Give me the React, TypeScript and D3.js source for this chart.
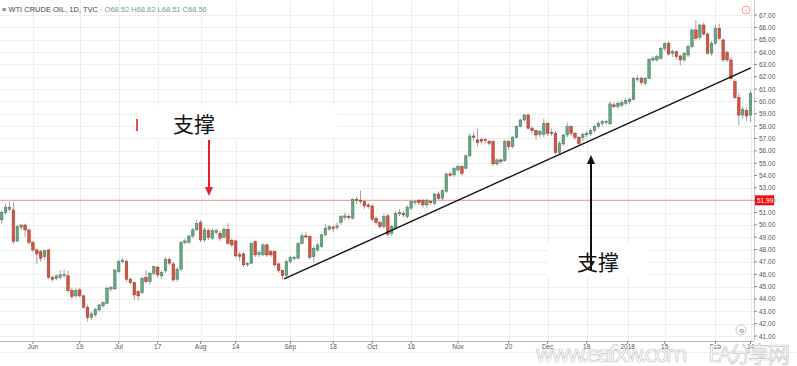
import { useEffect, useRef } from "react";
import * as d3 from "d3";

// daily candles [open, high, low, close], one per trading day
const candles: [number, number, number, number][] = [
  [50.4, 51.2, 50.1, 51.0], [50.99, 51.75, 50.8, 51.43], [51.26, 51.89, 51.15, 51.43], [51.21, 51.89, 48.45, 48.65],
  [48.7, 50.0, 48.6, 49.86], [49.81, 50.1, 49.6, 49.99], [49.99, 50.1, 49.05, 49.59], [49.59, 49.7, 48.4, 48.57],
  [48.57, 48.7, 47.8, 47.97], [47.97, 48.1, 46.84, 47.65], [47.84, 48.0, 47.0, 47.3], [47.43, 48.0, 47.2, 47.92],
  [47.97, 48.05, 45.6, 45.76], [45.76, 45.9, 45.4, 45.6], [45.65, 46.0, 45.5, 45.87], [45.76, 46.35, 45.6, 45.95],
  [45.95, 46.4, 45.7, 46.0], [45.87, 46.3, 44.5, 44.68], [44.68, 44.9, 44.0, 44.19], [44.25, 44.85, 44.1, 44.68],
  [44.73, 44.9, 44.1, 44.25], [44.25, 44.35, 43.2, 43.33], [43.33, 43.5, 42.17, 42.49], [42.49, 42.95, 42.3, 42.79],
  [42.71, 43.3, 42.55, 43.17], [43.11, 43.6, 42.95, 43.52], [43.44, 43.8, 43.3, 43.71], [43.65, 45.0, 43.55, 44.87],
  [44.81, 45.05, 44.6, 44.92], [44.81, 46.4, 44.75, 46.35], [46.22, 47.2, 46.1, 47.03], [47.03, 47.3, 46.9, 47.1],
  [47.03, 47.2, 45.4, 45.6], [45.6, 45.75, 45.2, 45.33], [45.33, 45.4, 43.9, 44.33], [44.6, 44.7, 43.9, 44.25],
  [44.52, 45.8, 44.4, 45.68], [45.73, 46.35, 45.3, 45.41], [45.41, 46.2, 45.2, 46.08], [46.08, 46.7, 45.9, 46.62],
  [46.57, 46.7, 45.7, 45.95], [45.87, 46.3, 45.6, 46.14], [46.27, 47.4, 46.1, 47.2], [47.2, 47.35, 46.7, 46.9],
  [46.84, 47.0, 45.4, 45.54], [45.6, 46.6, 45.4, 46.41], [46.41, 48.7, 46.3, 48.57], [48.57, 48.9, 48.4, 48.7],
  [48.6, 49.2, 48.45, 49.1], [49.1, 49.75, 48.9, 49.6], [49.6, 50.4, 49.5, 50.1], [50.19, 50.4, 48.6, 48.78],
  [48.78, 49.8, 48.6, 49.59], [49.54, 49.7, 48.8, 49.0], [48.92, 49.7, 48.8, 49.54], [49.38, 49.7, 49.2, 49.54],
  [49.32, 49.5, 48.7, 48.92], [49.0, 49.8, 48.9, 49.65], [49.65, 50.13, 48.4, 48.51], [48.73, 48.9, 48.2, 48.38],
  [48.7, 48.8, 47.3, 47.49], [47.6, 47.8, 47.1, 47.45], [47.65, 47.8, 46.6, 46.76], [46.76, 47.0, 46.6, 46.89],
  [46.89, 48.6, 46.8, 48.51], [48.65, 48.75, 47.4, 47.57], [47.6, 47.9, 47.4, 47.75], [47.57, 48.5, 47.5, 48.38],
  [48.38, 48.5, 47.4, 47.57], [47.84, 48.0, 47.4, 47.57], [47.84, 47.9, 46.6, 46.76], [46.84, 46.95, 46.1, 46.3],
  [46.3, 46.4, 45.6, 45.9], [45.9, 47.2, 45.8, 47.03], [47.03, 47.5, 46.9, 47.35], [47.27, 47.5, 47.1, 47.38],
  [47.3, 48.6, 47.2, 48.51], [48.51, 49.3, 48.4, 49.11], [49.11, 49.4, 48.9, 49.05], [49.05, 49.2, 47.2, 47.38],
  [47.43, 48.3, 47.0, 48.11], [47.97, 48.5, 47.8, 48.38], [48.24, 49.3, 48.1, 49.19], [49.19, 50.1, 49.1, 49.73],
  [49.65, 50.0, 49.5, 49.86], [49.83, 49.95, 49.4, 49.7], [49.78, 50.2, 49.6, 49.92], [50.19, 50.8, 50.0, 50.67],
  [50.62, 51.0, 50.4, 50.73], [50.7, 50.9, 50.4, 50.6], [50.54, 52.2, 50.45, 52.07], [52.07, 52.3, 51.7, 51.97],
  [52.0, 52.8, 51.7, 51.91], [51.89, 52.0, 51.3, 51.53], [51.62, 51.8, 51.3, 51.48], [51.53, 51.7, 50.3, 50.45],
  [50.54, 50.7, 50.0, 50.19], [50.19, 50.3, 49.7, 49.86], [49.86, 50.9, 49.7, 50.67], [50.73, 50.9, 49.1, 49.24],
  [49.32, 50.0, 49.1, 49.86], [49.73, 51.1, 49.6, 50.94], [50.89, 51.3, 50.7, 51.0], [50.94, 51.1, 50.6, 50.81],
  [50.67, 51.6, 50.5, 51.43], [51.35, 52.0, 51.2, 51.89], [51.8, 52.0, 51.6, 51.89], [51.97, 52.1, 51.6, 51.8],
  [51.97, 52.1, 51.4, 51.62], [51.62, 52.1, 51.4, 51.97], [51.91, 52.0, 51.6, 51.8], [51.75, 52.6, 51.6, 52.5],
  [52.5, 52.7, 52.0, 52.16], [52.16, 52.9, 52.0, 52.78], [52.7, 54.25, 52.6, 54.13], [54.13, 54.3, 53.9, 54.0],
  [54.05, 54.7, 53.9, 54.59], [54.45, 54.85, 54.3, 54.72], [54.72, 54.85, 54.0, 54.18], [54.59, 55.7, 54.5, 55.59],
  [55.59, 57.4, 55.5, 57.2], [57.2, 57.5, 56.8, 57.1], [56.88, 57.8, 56.35, 56.67], [56.93, 57.1, 56.5, 56.77],
  [56.93, 57.0, 56.6, 56.83], [56.75, 56.9, 56.4, 56.61], [56.75, 56.9, 54.8, 54.94], [54.94, 55.4, 54.8, 55.26],
  [55.26, 55.4, 54.95, 55.13], [55.2, 56.9, 55.1, 56.75], [56.75, 56.9, 56.1, 56.34], [56.34, 57.2, 56.2, 57.1],
  [57.1, 58.05, 57.0, 57.96], [57.96, 58.6, 57.9, 58.5], [58.5, 59.0, 58.4, 58.9], [58.9, 59.0, 57.7, 57.83],
  [57.83, 58.0, 57.4, 57.64], [57.64, 57.7, 56.9, 57.28], [57.34, 57.7, 57.1, 57.56], [57.34, 58.6, 57.1, 58.23],
  [58.23, 58.3, 57.2, 57.42], [57.5, 57.8, 57.2, 57.42], [57.42, 57.6, 55.7, 55.86], [55.86, 56.8, 55.7, 56.61],
  [56.56, 57.4, 56.4, 57.28], [57.28, 58.3, 57.1, 57.96], [57.96, 58.1, 57.2, 57.42], [57.42, 57.5, 56.9, 57.1],
  [57.1, 57.2, 56.4, 56.61], [57.07, 57.5, 56.8, 57.34], [57.3, 57.6, 57.1, 57.42], [57.37, 57.8, 57.2, 57.64],
  [57.64, 58.1, 57.5, 57.96], [57.96, 58.4, 57.8, 58.23], [58.2, 58.5, 58.0, 58.37], [58.3, 58.5, 58.1, 58.4],
  [58.18, 60.0, 58.1, 59.8], [59.72, 59.95, 59.4, 59.58], [59.58, 60.0, 59.4, 59.85], [59.7, 60.1, 59.5, 59.9],
  [59.85, 60.3, 59.7, 60.07], [59.98, 60.3, 59.8, 60.17], [60.17, 62.0, 60.1, 61.87], [61.8, 62.1, 61.6, 61.87],
  [61.87, 62.0, 61.3, 61.52], [61.47, 62.0, 61.3, 61.87], [61.87, 63.5, 61.8, 63.41], [63.36, 63.7, 63.2, 63.5],
  [63.36, 63.8, 63.2, 63.63], [63.5, 64.4, 63.4, 64.3], [64.3, 64.8, 64.1, 64.7], [64.7, 64.9, 63.7, 63.84],
  [63.9, 64.2, 63.6, 64.03], [64.03, 64.1, 63.4, 63.63], [63.68, 63.8, 62.9, 63.36], [63.36, 64.0, 63.2, 63.9],
  [63.76, 64.6, 63.6, 64.43], [64.43, 65.9, 64.3, 65.79], [65.79, 66.6, 65.0, 65.11], [65.19, 66.3, 65.0, 66.19],
  [66.19, 66.4, 65.3, 65.46], [65.46, 65.6, 63.8, 63.9], [63.9, 64.9, 63.7, 64.7], [64.7, 66.2, 64.6, 65.92],
  [65.92, 66.3, 65.0, 65.11], [64.98, 65.1, 63.2, 63.36], [63.95, 64.1, 63.2, 63.36], [63.36, 63.6, 61.7, 61.87],
  [61.6, 61.8, 60.2, 60.33], [60.33, 60.7, 58.1, 58.9], [58.9, 59.6, 58.6, 59.36], [59.25, 59.5, 58.4, 58.82],
  [58.9, 60.9, 58.3, 60.66],
];

const timeLabels = ["Jun", "19", "Jul", "17", "Aug", "14", "Sep", "18", "Oct", "16", "Nov", "20", "Dec", "18", "2018", "15", "Feb", "14"];
const timeLabelIndex = [8, 20, 30, 40, 51, 60, 74, 85, 95, 105, 117, 130, 140, 150, 160.5, 170, 183, 192];
const priceTicks = d3.range(41, 68, 1);
const supportLevel = 51.99;
// trend line anchors [bar index, price]
const trendLine: [number, number][] = [[72.4, 45.62], [192.1, 62.71]];

const W = 797, H = 366;
const plotRight = 754, axisY = 341;
const upColor = "#6ba583", downColor = "#d75442";

export default function App() {
  const ref = useRef<SVGSVGElement | null>(null);

  useEffect(() => {
    const svg = d3.select(ref.current);
    svg.selectAll("*").remove();

    const x = d3.scaleLinear().domain([0, candles.length - 1]).range([1.7, 750.5]);
    const y = d3.scaleLinear().domain([41, 67]).range([336, 15]);
    const ui = "Liberation Sans, Arial, sans-serif";

    svg.append("rect").attr("width", W).attr("height", H).attr("fill", "#fff");

    // grid
    svg.append("g").selectAll("line").data(priceTicks).join("line")
      .attr("x1", 0).attr("x2", plotRight).attr("y1", d => Math.round(y(d)) + 0.5).attr("y2", d => Math.round(y(d)) + 0.5)
      .attr("stroke", "#eeeeee");
    svg.append("g").selectAll("line").data(timeLabelIndex).join("line")
      .attr("x1", d => Math.round(x(d)) + 0.5).attr("x2", d => Math.round(x(d)) + 0.5).attr("y1", 0).attr("y2", axisY)
      .attr("stroke", "#eeeeee");

    // header
    const head = svg.append("text").attr("x", 2).attr("y", 12).attr("font-family", ui).attr("font-size", 7.5);
    head.append("tspan").attr("fill", "#444").text("\u2261 WTI CRUDE OIL, 1D, TVC \u00b7 ");
    head.append("tspan").attr("fill", upColor).text(" O68.52  H68.62  L68.51  C68.56");

    // support level
    svg.append("line").attr("x1", 0).attr("x2", plotRight).attr("y1", y(supportLevel)).attr("y2", y(supportLevel))
      .attr("stroke", "#f5a3a3").attr("stroke-width", 1.2);

    // candles
    const g = svg.append("g");
    const bw = 2.6;
    g.selectAll("line.wick").data(candles).join("line").attr("class", "wick")
      .attr("x1", (_, i) => x(i)).attr("x2", (_, i) => x(i))
      .attr("y1", d => y(d[1])).attr("y2", d => y(d[2]))
      .attr("stroke", "#8a8a8a").attr("stroke-width", 0.8);
    g.selectAll("rect.body").data(candles).join("rect").attr("class", "body")
      .attr("x", (_, i) => x(i) - bw / 2).attr("width", bw)
      .attr("y", d => y(Math.max(d[0], d[3])))
      .attr("height", d => Math.max(1, Math.abs(y(d[0]) - y(d[3]))))
      .attr("fill", d => (d[3] >= d[0] ? upColor : downColor))
      .attr("stroke", d => (d[3] >= d[0] ? "#3f7a58" : "#9a3427")).attr("stroke-width", 0.5);

    // trend line
    svg.append("line")
      .attr("x1", x(trendLine[0][0])).attr("y1", y(trendLine[0][1]))
      .attr("x2", x(trendLine[1][0])).attr("y2", y(trendLine[1][1]))
      .attr("stroke", "#111").attr("stroke-width", 1.4);

    // annotations
    const cjk = "Noto Sans CJK SC, sans-serif";
    svg.append("rect").attr("x", 138).attr("y", 105).attr("width", 200).attr("height", 33).attr("fill", "#fff");
    svg.append("line").attr("x1", 137).attr("x2", 137).attr("y1", 119).attr("y2", 131).attr("stroke", "#e8202a").attr("stroke-width", 1.6);
    svg.append("text").attr("x", 173).attr("y", 132).attr("font-family", cjk).attr("font-size", 21).attr("fill", "#111").text("支撑");

    const ax = x(53.15);
    svg.append("line").attr("x1", ax).attr("x2", ax).attr("y1", y(56.88)).attr("y2", y(52.9)).attr("stroke", "#e8202a").attr("stroke-width", 2);
    svg.append("path").attr("d", `M${ax - 4},${y(52.9) - 2}L${ax + 4},${y(52.9) - 2}L${ax},${y(52.34)}Z`).attr("fill", "#e8202a");

    svg.append("rect").attr("x", 548).attr("y", 245).attr("width", 100).attr("height", 32).attr("fill", "#fff");
    const bx = x(151.1);
    svg.append("line").attr("x1", bx).attr("x2", bx).attr("y1", y(46.35)).attr("y2", y(55.1)).attr("stroke", "#111").attr("stroke-width", 2);
    svg.append("path").attr("d", `M${bx - 4},${y(55.1) + 2}L${bx + 4},${y(55.1) + 2}L${bx},${y(55.66)}Z`).attr("fill", "#111");
    svg.append("text").attr("x", 577).attr("y", 270).attr("font-family", cjk).attr("font-size", 21).attr("fill", "#111").text("支撑");

    // right price axis
    svg.append("rect").attr("x", plotRight).attr("y", 0).attr("width", W - plotRight).attr("height", axisY).attr("fill", "#fff");
    svg.append("line").attr("x1", plotRight + 0.5).attr("x2", plotRight + 0.5).attr("y1", 0).attr("y2", axisY).attr("stroke", "#c8c8c8");
    const pa = svg.append("g");
    pa.selectAll("line").data(priceTicks).join("line")
      .attr("x1", plotRight).attr("x2", plotRight + 3).attr("y1", d => y(d)).attr("y2", d => y(d)).attr("stroke", "#888");
    pa.selectAll("text").data(priceTicks).join("text")
      .attr("x", plotRight + 5).attr("y", d => y(d) + 2.5)
      .attr("font-family", ui).attr("font-size", 6.5).attr("fill", "#555")
      .text(d => d3.format(".2f")(d));
    svg.append("rect").attr("x", plotRight + 1).attr("y", y(supportLevel) - 5).attr("width", 19).attr("height", 10).attr("fill", "#f01010");
    svg.append("text").attr("x", plotRight + 3).attr("y", y(supportLevel) + 2.5)
      .attr("font-family", ui).attr("font-size", 6.5).attr("fill", "#fff").text(d3.format(".2f")(supportLevel));

    // time axis
    svg.append("line").attr("x1", 0).attr("x2", plotRight).attr("y1", axisY + 0.5).attr("y2", axisY + 0.5).attr("stroke", "#b8b8b8");
    svg.append("line").attr("x1", 0).attr("x2", W).attr("y1", 352.5).attr("y2", 352.5).attr("stroke", "#f0f0f0");
    const ta = svg.append("g");
    ta.selectAll("line").data(timeLabelIndex).join("line")
      .attr("x1", d => x(d)).attr("x2", d => x(d)).attr("y1", axisY).attr("y2", axisY + 3).attr("stroke", "#888");
    ta.selectAll("text").data(timeLabels).join("text")
      .attr("x", (_, i) => x(timeLabelIndex[i])).attr("y", 349).attr("text-anchor", "middle")
      .attr("font-family", ui).attr("font-size", 6.5).attr("fill", "#555").text(d => d);

    // chart icons
    svg.append("circle").attr("cx", 746).attr("cy", 10).attr("r", 4).attr("fill", "none").attr("stroke", "#f08a8a").attr("stroke-width", 0.8);
    svg.append("text").attr("x", 746).attr("y", 12.5).attr("text-anchor", "middle").attr("font-size", 6).attr("fill", "#f08a8a").text("!");
    svg.append("circle").attr("cx", 741).attr("cy", 330).attr("r", 5).attr("fill", "#fff").attr("stroke", "#bbb").attr("stroke-width", 0.8);
    svg.append("text").attr("x", 741).attr("y", 332.5).attr("text-anchor", "middle").attr("font-size", 6).attr("fill", "#888").text("\u2699");

    // watermark
    svg.append("text").attr("x", 535).attr("y", 362).attr("font-family", "DejaVu Sans, sans-serif").attr("font-size", 23)
      .attr("textLength", 153).attr("fill", "#fff").attr("stroke", "#c8c8c8").attr("stroke-width", 0.7).text("www.eafxw.com");
    svg.append("text").attr("x", 708).attr("y", 362).attr("font-family", cjk).attr("font-size", 22)
      .attr("textLength", 82).attr("fill", "#fff").attr("stroke", "#c8c8c8").attr("stroke-width", 0.7).text("EA分享网");
  }, []);

  return <svg ref={ref} width={W} height={H} style={{ position: "absolute", left: 0, top: 0 }} />;
}
